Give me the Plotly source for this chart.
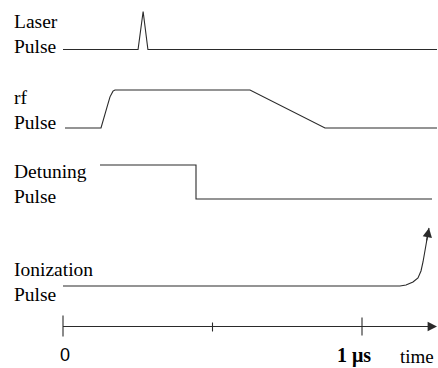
import plotly.graph_objects as go

# ---------------- data (time in microseconds, amplitude normalised 0..1) -------------
laser_t = [0.0, 0.251, 0.268, 0.284, 1.2508]
laser_a = [0, 0, 1, 0, 0]

rf_t = [0.0067, 0.1271, 0.1472, 0.1572, 0.1672, 0.1739, 0.6254, 0.8763, 1.2508]
rf_a = [0, 0, 0.55, 0.82, 0.97, 1, 1, 0, 0]

det_t = [0.1237, 0.4448, 0.4448, 1.2341]
det_a = [1, 1, 0, 0]

ion_t = [0.0, 1.1271, 1.1472, 1.1706, 1.1873, 1.1973, 1.2040, 1.2107, 1.2157, 1.2207, 1.2241]
ion_a = [0, 0, 0.017, 0.069, 0.138, 0.259, 0.414, 0.586, 0.759, 0.931, 1.0]

tick_t = [0.0, 0.5, 1.0]
tick_labels = ["0", "", "1 \u03bcs"]
axis_end_t = 1.2508
axis_title = "time"

row_labels = ["Laser<br>Pulse", "rf<br>Pulse", "Detuning<br>Pulse", "Ionization<br>Pulse"]

# ---------------- layout constants (rows in pixels from top) ----------------------
W, H = 438, 368
PX_PER_US = 299.0
T0_PX = 63.0
laser_base, laser_h = 49.5, 38
rf_base, rf_h = 128, 38
det_base, det_h = 199, 34
ion_base, ion_h = 286, 58
axis_row = 326.5
tick_half = [(11, 10), (4, 5), (9, 9)]
label_first_baselines = [27, 103, 177, 275]

LINE = dict(color="#2a2a2a", width=1.1)
SERIF = "Liberation Serif"
FS = 19.5

def rows(a, base, h):
    return [base - v * h for v in a]

fig = go.Figure()
fig.add_trace(go.Scatter(x=laser_t, y=rows(laser_a, laser_base, laser_h), mode="lines", line=LINE))
fig.add_trace(go.Scatter(x=rf_t, y=rows(rf_a, rf_base, rf_h), mode="lines", line=LINE))
fig.add_trace(go.Scatter(x=det_t, y=rows(det_a, det_base, det_h), mode="lines", line=LINE))
fig.add_trace(go.Scatter(x=ion_t, y=rows(ion_a, ion_base, ion_h), mode="lines", line=LINE))
# time axis
fig.add_trace(go.Scatter(x=[0, axis_end_t - 0.01], y=[axis_row, axis_row], mode="lines", line=LINE))
for t, (up, dn) in zip(tick_t, tick_half):
    fig.add_trace(go.Scatter(x=[t, t], y=[axis_row - up, axis_row + dn], mode="lines", line=LINE))

ann = []
# arrow heads
ann.append(dict(x=axis_end_t, y=axis_row, ax=axis_end_t - 0.06, ay=axis_row, xref="x", yref="y",
                axref="x", ayref="y", showarrow=True, arrowhead=2, arrowsize=1.7,
                arrowwidth=1.1, arrowcolor=LINE["color"], text="", standoff=0))
tip_row = ion_base - ion_a[-1] * ion_h
prev_row = ion_base - ion_a[-3] * ion_h
ann.append(dict(x=ion_t[-1], y=tip_row, ax=ion_t[-3], ay=prev_row, xref="x", yref="y",
                axref="x", ayref="y", showarrow=True, arrowhead=2, arrowsize=1.7,
                arrowwidth=1.1, arrowcolor=LINE["color"], text="", standoff=0))

# row labels (two lines each)
for txt, b1 in zip(row_labels, label_first_baselines):
    ann.append(dict(x=12 / W, y=b1 + 0.35 * FS, xref="paper", yref="y", text=txt,
                    showarrow=False, xanchor="left", yanchor="middle", align="left",
                    font=dict(family=SERIF, size=FS, color="#000")))

# tick labels
ann.append(dict(x=tick_t[0] + 0.006, y=355, xref="x", yref="y", text=tick_labels[0],
                showarrow=False, xanchor="center", yanchor="middle",
                font=dict(family="Liberation Sans", size=18, color="#000")))
ann.append(dict(x=tick_t[2] - 0.027, y=355, xref="x", yref="y", text="<b>" + tick_labels[2] + "</b>",
                showarrow=False, xanchor="center", yanchor="middle",
                font=dict(family=SERIF, size=20, color="#000")))
ann.append(dict(x=436 / W, y=356, xref="paper", yref="y", text=axis_title,
                showarrow=False, xanchor="right", yanchor="middle",
                font=dict(family=SERIF, size=19, color="#000")))

fig.update_layout(
    width=W, height=H, margin=dict(l=0, r=0, t=0, b=0),
    paper_bgcolor="white", plot_bgcolor="white", showlegend=False,
    xaxis=dict(range=[-T0_PX / PX_PER_US, (W - T0_PX) / PX_PER_US], visible=False, fixedrange=True),
    yaxis=dict(range=[H, 0], visible=False, fixedrange=True),
    annotations=ann,
)
fig.write_html("out.html")
